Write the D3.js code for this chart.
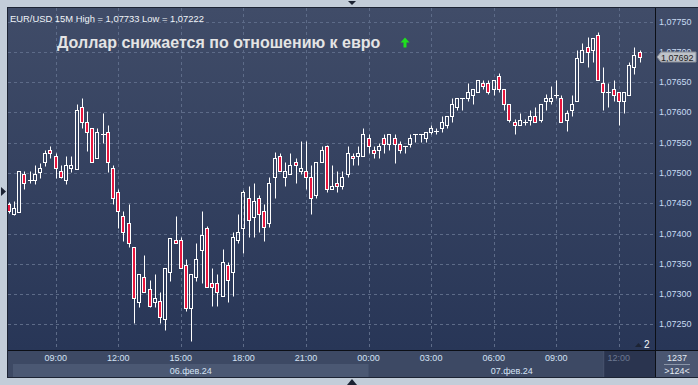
<!DOCTYPE html>
<html>
<head>
<meta charset="utf-8">
<script src="https://cdn.jsdelivr.net/npm/d3@7"></script>
<style>
  body { margin: 0; background: #c3cdd9; }
  svg { display: block; font-family: "Liberation Sans", Arial, sans-serif; }
</style>
</head>
<body>
<div id="chart"></div>
<script>
// EUR/USD 15M, 06.02.2024 06:45 .. 07.02.2024 13:00
const startTime = new Date(2024, 1, 6, 6, 45)
const stepMin = 15

const open = [
  1.07449, 1.07432, 1.07436, 1.07498, 1.07487, 1.07488, 1.07502, 1.07518, 1.07538, 1.07528,
  1.07504, 1.07488, 1.07508, 1.07507, 1.07609, 1.07584, 1.07574, 1.07524, 1.07564, 1.07568,
  1.07508, 1.07468, 1.07429, 1.07417, 1.07377, 1.07287, 1.07328, 1.07308, 1.07287, 1.07288,
  1.07258, 1.07337, 1.07389, 1.07389, 1.07348, 1.07277, 1.07328, 1.07373, 1.07409, 1.07318,
  1.07318, 1.07296, 1.07348, 1.07337, 1.07389, 1.07409, 1.07458, 1.07428, 1.07458, 1.07437,
  1.07417, 1.07493, 1.07528, 1.07493, 1.07498, 1.07518, 1.07503, 1.07503, 1.07493, 1.07463,
  1.07518, 1.07544, 1.07473, 1.07483, 1.07478, 1.07498, 1.07528, 1.07528, 1.07528, 1.07558,
  1.07538, 1.07538, 1.07558, 1.07548, 1.07558, 1.07548, 1.07545, 1.07548, 1.07564, 1.07564,
  1.07558, 1.07568, 1.07568, 1.07574, 1.07579, 1.07594, 1.07609, 1.07624, 1.07624, 1.07629,
  1.07634, 1.07649, 1.07649, 1.07639, 1.07660, 1.07639, 1.07614, 1.07584, 1.07579, 1.07584,
  1.07587, 1.07594, 1.07588, 1.07619, 1.07619, 1.07629, 1.07624, 1.07588, 1.07604, 1.07619,
  1.07683, 1.07708, 1.07703, 1.07728, 1.07649, 1.07634, 1.07639, 1.07634, 1.07619, 1.07629,
  1.07675, 1.07700
]
const high = [
  1.07452, 1.07453, 1.07504, 1.07504, 1.07504, 1.07514, 1.07516, 1.07538, 1.07545, 1.07533,
  1.07514, 1.07528, 1.07528, 1.07614, 1.07624, 1.07603, 1.07574, 1.07574, 1.07599, 1.07580,
  1.07514, 1.07473, 1.07437, 1.07449, 1.07377, 1.07333, 1.07365, 1.07323, 1.07333, 1.07303,
  1.07343, 1.07393, 1.07429, 1.07394, 1.07358, 1.07333, 1.07384, 1.07437, 1.07413, 1.07343,
  1.07333, 1.07375, 1.07353, 1.07402, 1.07432, 1.07472, 1.07479, 1.07483, 1.07463, 1.07449,
  1.07493, 1.07534, 1.07533, 1.07518, 1.07533, 1.07525, 1.07553, 1.07553, 1.07513, 1.07518,
  1.07544, 1.07546, 1.07513, 1.07503, 1.07503, 1.07544, 1.07533, 1.07545, 1.07574, 1.07564,
  1.07545, 1.07549, 1.07564, 1.07564, 1.07564, 1.07553, 1.07545, 1.07564, 1.07564, 1.07564,
  1.07568, 1.07579, 1.07574, 1.07594, 1.07594, 1.07624, 1.07624, 1.07624, 1.07649, 1.07639,
  1.07654, 1.07654, 1.07654, 1.07654, 1.07665, 1.07639, 1.07614, 1.07589, 1.07599, 1.07589,
  1.07604, 1.07609, 1.07614, 1.07630, 1.07644, 1.07654, 1.07629, 1.07604, 1.07629, 1.07704,
  1.07715, 1.07724, 1.07723, 1.07733, 1.07675, 1.07649, 1.07654, 1.07634, 1.07634, 1.07683,
  1.07709, 1.07704
]
const low = [
  1.07434, 1.07431, 1.07436, 1.07473, 1.07483, 1.07482, 1.07492, 1.07512, 1.07525, 1.07492,
  1.07492, 1.07482, 1.07502, 1.07507, 1.07575, 1.07537, 1.07518, 1.07524, 1.07549, 1.07502,
  1.07449, 1.07409, 1.07388, 1.07377, 1.07252, 1.07278, 1.07303, 1.07278, 1.07278, 1.07252,
  1.07241, 1.07322, 1.07384, 1.07343, 1.07272, 1.07222, 1.07322, 1.07318, 1.07312, 1.07281,
  1.07281, 1.07296, 1.07287, 1.07296, 1.07384, 1.07368, 1.07394, 1.07394, 1.07402, 1.07388,
  1.07411, 1.07458, 1.07503, 1.07478, 1.07498, 1.07483, 1.07498, 1.07473, 1.07432, 1.07458,
  1.07518, 1.07468, 1.07473, 1.07468, 1.07473, 1.07493, 1.07513, 1.07513, 1.07528, 1.07533,
  1.07524, 1.07524, 1.07533, 1.07538, 1.07517, 1.07533, 1.07533, 1.07543, 1.07552, 1.07552,
  1.07552, 1.07564, 1.07564, 1.07568, 1.07574, 1.07584, 1.07604, 1.07604, 1.07619, 1.07614,
  1.07634, 1.07639, 1.07630, 1.07629, 1.07634, 1.07604, 1.07584, 1.07564, 1.07579, 1.07579,
  1.07579, 1.07584, 1.07584, 1.07604, 1.07614, 1.07624, 1.07584, 1.07569, 1.07594, 1.07619,
  1.07683, 1.07675, 1.07683, 1.07654, 1.07604, 1.07609, 1.07619, 1.07579, 1.07599, 1.07629,
  1.07664, 1.07683
]
const close = [
  1.07437, 1.07442, 1.07504, 1.07483, 1.07488, 1.07498, 1.07508, 1.07533, 1.07533, 1.07508,
  1.07493, 1.07513, 1.07513, 1.07604, 1.07584, 1.07568, 1.07518, 1.07568, 1.07564, 1.07518,
  1.07458, 1.07437, 1.07402, 1.07384, 1.07293, 1.07333, 1.07303, 1.07281, 1.07293, 1.07262,
  1.07343, 1.07393, 1.07384, 1.07343, 1.07277, 1.07333, 1.07358, 1.07397, 1.07312, 1.07312,
  1.07303, 1.07353, 1.07323, 1.07394, 1.07402, 1.07468, 1.07423, 1.07453, 1.07432, 1.07411,
  1.07483, 1.07525, 1.07503, 1.07503, 1.07513, 1.07513, 1.07508, 1.07493, 1.07458, 1.07518,
  1.07538, 1.07473, 1.07478, 1.07478, 1.07493, 1.07533, 1.07524, 1.07533, 1.07564, 1.07545,
  1.07533, 1.07544, 1.07548, 1.07564, 1.07548, 1.07538, 1.07545, 1.07558, 1.07564, 1.07564,
  1.07568, 1.07574, 1.07569, 1.07584, 1.07594, 1.07614, 1.07624, 1.07624, 1.07634, 1.07639,
  1.07654, 1.07644, 1.07634, 1.07654, 1.07639, 1.07614, 1.07588, 1.07579, 1.07588, 1.07585,
  1.07594, 1.07584, 1.07614, 1.07624, 1.07624, 1.07629, 1.07584, 1.07599, 1.07614, 1.07690,
  1.07703, 1.07700, 1.07723, 1.07654, 1.07634, 1.07634, 1.07629, 1.07619, 1.07634, 1.07679,
  1.07695, 1.07692
]

const priceTicks = [1.0725, 1.073, 1.0735, 1.074, 1.0745, 1.075, 1.0755, 1.076, 1.0765, 1.077, 1.0775]
const lastPrice = 1.07692
const dayLabels = ["06.фев.24", "07.фев.24"]
const headerText = "EUR/USD 15M High = 1,07733 Low = 1,07222"
const titleText = "Доллар снижается по отношению к евро"

const W = 698, H = 385
const plotLeft = 8, plotTop = 8, plotRight = 655, plotBottom = 350

const times = open.map((d, i) => new Date(+startTime + i * stepMin * 60000))
const bars = times.map((t, i) => ({ t, o: open[i], h: high[i], l: low[i], c: close[i] }))

const svg = d3.select("#chart").append("svg").attr("width", W).attr("height", H)

const defs = svg.append("defs")
const grad = defs.append("linearGradient").attr("id", "bg").attr("x1", 0).attr("y1", 0).attr("x2", 0).attr("y2", 1)
grad.append("stop").attr("offset", "0%").attr("stop-color", "#404c68")
grad.append("stop").attr("offset", "100%").attr("stop-color", "#283657")
defs.append("clipPath").attr("id", "plotclip").append("rect")
    .attr("x", plotLeft).attr("y", plotTop).attr("width", plotRight - plotLeft).attr("height", plotBottom - plotTop)

// frame
svg.append("rect").attr("width", W).attr("height", H).attr("fill", "#c3cdd9")
svg.append("rect").attr("x", plotLeft - 1).attr("y", plotTop - 1).attr("width", W - plotLeft + 1).attr("height", 371).attr("fill", "#1c2333")
svg.append("rect").attr("x", plotLeft).attr("y", plotTop).attr("width", W - plotLeft).attr("height", plotBottom - plotTop).attr("fill", "url(#bg)")

const x = d3.scaleTime()
    .domain([times[9], times[times.length - 1]])
    .range([55.7, 639.7])

const y = d3.scaleLinear()
    .domain([1.0725, 1.0775])
    .range([324.3, 21.7])

const hourTicks = d3.timeHour.every(3).range(times[0], times[times.length - 1])

// grid
const grid = svg.append("g").attr("stroke", "#5d6b88").attr("stroke-dasharray", "3,3").attr("stroke-width", 1)
grid.selectAll("line.h").data(priceTicks).join("line").attr("class", "h")
    .attr("x1", plotLeft).attr("x2", plotRight)
    .attr("y1", d => Math.round(y(d)) + 0.5).attr("y2", d => Math.round(y(d)) + 0.5)
grid.selectAll("line.v").data(hourTicks).join("line").attr("class", "v")
    .attr("y1", plotTop).attr("y2", plotBottom)
    .attr("x1", d => Math.round(x(d)) + 0.5).attr("x2", d => Math.round(x(d)) + 0.5)

// candles
const cg = svg.append("g").attr("clip-path", "url(#plotclip)")
const py = v => Math.round(y(v)) + 0.5
bars.forEach(b => {
    const xi = Math.round(x(b.t))
    const wx = xi + 0.5
    const yt = py(Math.max(b.o, b.c)), yb = py(Math.min(b.o, b.c))
    const doji = Math.abs(b.c - b.o) < 0.000015
    if (doji) {
        cg.append("line").attr("x1", wx).attr("x2", wx).attr("y1", py(b.h)).attr("y2", py(b.l)).attr("stroke", "#fff")
        cg.append("line").attr("x1", xi - 2).attr("x2", xi + 3).attr("y1", py(b.c)).attr("y2", py(b.c)).attr("stroke", "#fff")
        return
    }
    if (py(b.h) < yt) cg.append("line").attr("x1", wx).attr("x2", wx).attr("y1", py(b.h)).attr("y2", yt).attr("stroke", "#fff")
    if (py(b.l) > yb) cg.append("line").attr("x1", wx).attr("x2", wx).attr("y1", yb).attr("y2", py(b.l)).attr("stroke", "#fff")
    cg.append("rect")
        .attr("x", xi - 1.5).attr("y", yt).attr("width", 3).attr("height", Math.max(1, yb - yt))
        .attr("fill", b.c < b.o ? "#e8163e" : "none")
        .attr("stroke", "#fff").attr("stroke-width", 1)
})

// header + title
svg.append("text").attr("x", 10).attr("y", 22).attr("font-size", 9.4).attr("fill", "#f0f4f8").text(headerText)
svg.append("text").attr("x", 57).attr("y", 48).attr("font-size", 16).attr("font-weight", "bold")
    .attr("fill", "#e4e4e4").text(titleText)
svg.append("path").attr("d", "M405,37.5 L409.5,42.5 L406.5,42.5 L406.5,47.5 L403.5,47.5 L403.5,42.5 L400.5,42.5 Z").attr("fill", "#1fe01f")

// separators
svg.append("line").attr("x1", plotLeft).attr("x2", W).attr("y1", plotBottom + 0.5).attr("y2", plotBottom + 0.5).attr("stroke", "#0c0f16")
svg.append("line").attr("x1", plotRight + 0.5).attr("x2", plotRight + 0.5).attr("y1", plotTop).attr("y2", 377).attr("stroke", "#0c0f16")

// price axis
const fmt = d => d3.format(".5f")(d).replace(".", ",")
svg.append("g").selectAll("text").data(priceTicks).join("text")
    .attr("x", 659).attr("y", d => y(d) + 3)
    .attr("font-size", 9).attr("fill", "#c8dbf3")
    .text(fmt)

// last price marker (covers the tick label under it, as in the terminal)
const ly = Math.round(y(lastPrice))
svg.append("path")
    .attr("d", `M657,${ly} L661,${ly - 5} L696,${ly - 5} L696,${ly + 5} L661,${ly + 5} Z`)
    .attr("fill", "#bfc3ca").attr("stroke", "#8a8f98")
svg.append("text").attr("x", 661).attr("y", ly + 3.5).attr("font-size", 9).attr("fill", "#1e1e1e").text(fmt(lastPrice))

// time axis
svg.append("rect").attr("x", plotLeft).attr("y", plotBottom + 1).attr("width", plotRight - plotLeft).attr("height", 26).attr("fill", "#3d4964")
const dayBreak = new Date(2024, 1, 7, 0, 0)
svg.append("rect").attr("x", 13).attr("y", 364).attr("width", x(dayBreak) - 13).attr("height", 13).attr("fill", "#4b5873")
const hiStart = x(new Date(2024, 1, 7, 11, 15))
svg.append("rect").attr("x", hiStart).attr("y", plotBottom + 1).attr("width", plotRight - hiStart).attr("height", 26).attr("fill", "#2a344f")
svg.append("line").attr("x1", hiStart + 0.5).attr("x2", hiStart + 0.5).attr("y1", plotBottom + 1).attr("y2", 377).attr("stroke", "#4a5670")

svg.append("g").selectAll("text").data(hourTicks).join("text")
    .attr("x", d => x(d)).attr("y", 361).attr("text-anchor", "middle")
    .attr("font-size", 9).attr("fill", (d, i) => i === hourTicks.length - 1 ? "#6c7891" : "#d4e2f4")
    .text(d3.timeFormat("%H:%M"))

const dayCenters = [(13 + x(dayBreak)) / 2, (x(dayBreak) + plotRight) / 2]
svg.append("g").selectAll("text").data(dayLabels).join("text")
    .attr("x", (d, i) => dayCenters[i]).attr("y", 374).attr("text-anchor", "middle")
    .attr("font-size", 9).attr("fill", "#d4e2f4").text(d => d)

// bottom right box
svg.append("rect").attr("x", plotRight + 1).attr("y", plotBottom + 1).attr("width", W - plotRight - 1).attr("height", 26).attr("fill", "#4a5671")
svg.append("text").attr("x", 677).attr("y", 361).attr("text-anchor", "middle").attr("font-size", 9).attr("fill", "#e4eaf2").text("1237")
svg.append("line").attr("x1", 664).attr("x2", 690).attr("y1", 364.5).attr("y2", 364.5).attr("stroke", "#8a95a8")
svg.append("text").attr("x", 677).attr("y", 374).attr("text-anchor", "middle").attr("font-size", 9).attr("fill", "#e4eaf2").text(">124<")

// "2" marker
svg.append("path").attr("d", "M635,347 L638.5,343 L642,347 Z").attr("fill", "#1c2333")
svg.append("text").attr("x", 644).attr("y", 348).attr("font-size", 10).attr("fill", "#f4f6fa").text("2")

// edge arrows
svg.append("path").attr("d", "M1,187 L6,191.5 L1,196 Z").attr("fill", "#1c2333")
svg.append("path").attr("d", "M348,1 L356,1 L352,5 Z").attr("fill", "#1c2333")
svg.append("path").attr("d", "M347,385 L352,379 L357,385 Z").attr("fill", "#1c2333")
</script>
</body>
</html>
